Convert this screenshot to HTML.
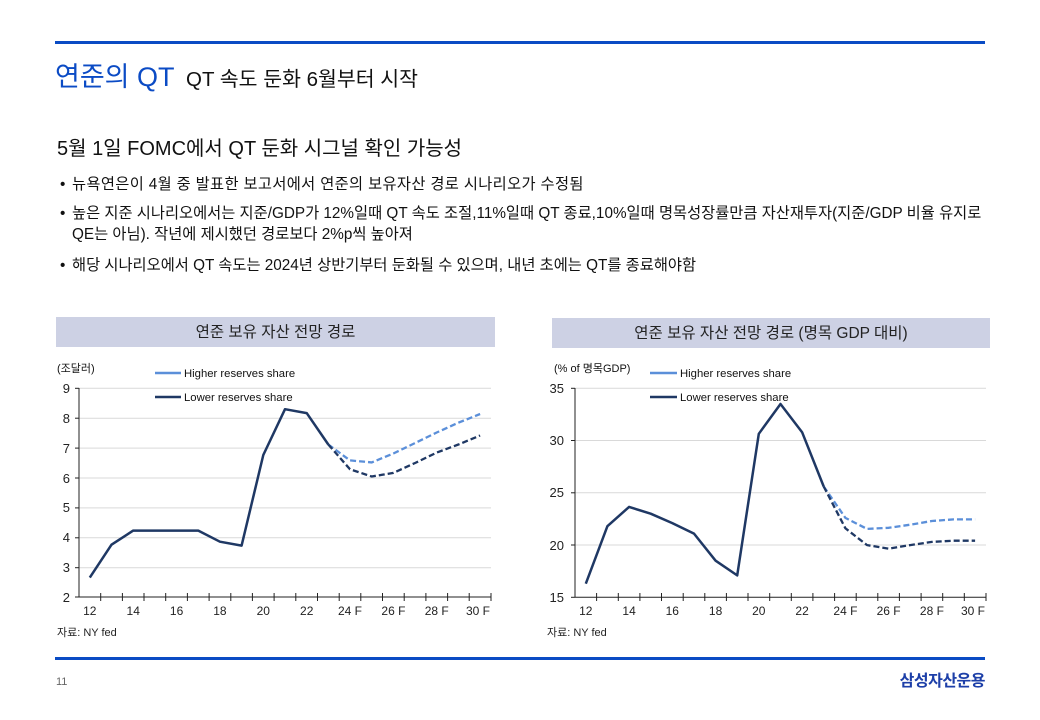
<!DOCTYPE html>
<html><head><meta charset="utf-8">
<style>
html,body{margin:0;padding:0;background:#fff;}
body{width:1040px;height:720px;overflow:hidden;}
svg{display:block;font-family:"Liberation Sans","Noto Sans CJK KR",sans-serif;}
</style></head>
<body>
<svg width="1040" height="720" viewBox="0 0 1040 720" xmlns="http://www.w3.org/2000/svg">
<rect x="0" y="0" width="1040" height="720" fill="#fff"/>
<!-- top rule -->
<rect x="55" y="41" width="930" height="3" fill="#0a4bc4"/>
<text x="55" y="86" font-size="27" fill="#0b4bc5">연준의 QT</text>
<text x="186" y="86" font-size="20.5" fill="#111">QT 속도 둔화 6월부터 시작</text>
<text x="57" y="155" font-size="20" fill="#111">5월 1일 FOMC에서 QT 둔화 시그널 확인 가능성</text>

<g font-size="15.3" fill="#111">
<text x="60" y="189">•</text>
<text x="72" y="189" letter-spacing="0.35">뉴욕연은이 4월 중 발표한 보고서에서 연준의 보유자산 경로 시나리오가 수정됨</text>
<text x="60" y="218">•</text>
<text x="72" y="218">높은 지준 시나리오에서는 지준/GDP가 12%일때 QT 속도 조절,11%일때 QT 종료,10%일때 명목성장률만큼 자산재투자(지준/GDP 비율 유지로</text>
<text x="72" y="239">QE는 아님). 작년에 제시했던 경로보다 2%p씩 높아져</text>
<text x="60" y="270">•</text>
<text x="72" y="270">해당 시나리오에서 QT 속도는 2024년 상반기부터 둔화될 수 있으며, 내년 초에는 QT를 종료해야함</text>
</g>

<!-- LEFT CHART -->
<rect x="56" y="317" width="439" height="30" fill="#cdd1e4"/>
<text x="275.5" y="337" font-size="15.5" fill="#222" text-anchor="middle">연준 보유 자산 전망 경로</text>
<text x="57" y="372" font-size="11" fill="#111">(조달러)</text>
<g stroke="#d9d9d9" stroke-width="1">
<line x1="79" y1="388.3" x2="491" y2="388.3"/>
<line x1="79" y1="418.2" x2="491" y2="418.2"/>
<line x1="79" y1="448.1" x2="491" y2="448.1"/>
<line x1="79" y1="478" x2="491" y2="478"/>
<line x1="79" y1="507.9" x2="491" y2="507.9"/>
<line x1="79" y1="537.8" x2="491" y2="537.8"/>
<line x1="79" y1="567.7" x2="491" y2="567.7"/>
</g>
<g stroke="#222" stroke-width="1">
<line x1="79" y1="388" x2="79" y2="597"/>
<line x1="79" y1="597" x2="491" y2="597"/>
<line x1="75" y1="388.3" x2="79" y2="388.3"/><line x1="75" y1="418.2" x2="79" y2="418.2"/><line x1="75" y1="448.1" x2="79" y2="448.1"/><line x1="75" y1="478" x2="79" y2="478"/><line x1="75" y1="507.9" x2="79" y2="507.9"/><line x1="75" y1="537.8" x2="79" y2="537.8"/><line x1="75" y1="567.7" x2="79" y2="567.7"/><line x1="75" y1="597" x2="79" y2="597"/>
<line x1="100.7" y1="593" x2="100.7" y2="601"/><line x1="122.4" y1="593" x2="122.4" y2="601"/><line x1="144.0" y1="593" x2="144.0" y2="601"/><line x1="165.7" y1="593" x2="165.7" y2="601"/><line x1="187.4" y1="593" x2="187.4" y2="601"/><line x1="209.1" y1="593" x2="209.1" y2="601"/><line x1="230.8" y1="593" x2="230.8" y2="601"/><line x1="252.4" y1="593" x2="252.4" y2="601"/><line x1="274.1" y1="593" x2="274.1" y2="601"/><line x1="295.8" y1="593" x2="295.8" y2="601"/><line x1="317.5" y1="593" x2="317.5" y2="601"/><line x1="339.2" y1="593" x2="339.2" y2="601"/><line x1="360.8" y1="593" x2="360.8" y2="601"/><line x1="382.5" y1="593" x2="382.5" y2="601"/><line x1="404.2" y1="593" x2="404.2" y2="601"/><line x1="425.9" y1="593" x2="425.9" y2="601"/><line x1="447.6" y1="593" x2="447.6" y2="601"/><line x1="469.2" y1="593" x2="469.2" y2="601"/><line x1="491" y1="593" x2="491" y2="601"/>
</g>
<g font-size="13" fill="#222" text-anchor="end">
<text x="70" y="393">9</text><text x="70" y="423">8</text><text x="70" y="453">7</text><text x="70" y="483">6</text><text x="70" y="512">5</text><text x="70" y="542">4</text><text x="70" y="572">3</text><text x="70" y="602">2</text>
</g>
<g font-size="12" fill="#222" text-anchor="middle">
<text x="89.8" y="615">12</text><text x="133.2" y="615">14</text><text x="176.6" y="615">16</text><text x="219.9" y="615">18</text><text x="263.3" y="615">20</text><text x="306.7" y="615">22</text><text x="350.0" y="615">24 F</text><text x="393.4" y="615">26 F</text><text x="436.7" y="615">28 F</text><text x="478" y="615">30 F</text>
</g>
<!-- legend left -->
<line x1="155" y1="373" x2="181" y2="373" stroke="#5b8fd9" stroke-width="2.5"/>
<text x="184" y="377" font-size="11.3" fill="#111">Higher reserves share</text>
<line x1="155" y1="397" x2="181" y2="397" stroke="#1f3864" stroke-width="2.5"/>
<text x="184" y="401" font-size="11.3" fill="#111">Lower reserves share</text>
<!-- series left -->
<polyline fill="none" stroke="#5b8fd9" stroke-width="2.3" stroke-dasharray="6,3" points="328.3,444.5 350.0,460.4 371.7,462.4 393.4,453.5 415.1,443.0 436.7,432.5 458.4,422.7 480.1,414.0"/>
<polyline fill="none" stroke="#1f3864" stroke-width="2.3" stroke-dasharray="6,3" points="328.3,444.5 350.0,469.3 371.7,476.5 393.4,472.9 415.1,463.0 436.7,452.6 458.4,444.5 480.1,435.5"/>
<polyline fill="none" stroke="#1f3864" stroke-width="2.5" stroke-linejoin="round" points="89.8,577.6 111.5,544.7 133.2,530.6 154.9,530.6 176.6,530.6 198.3,530.6 219.9,541.7 241.6,545.6 263.3,455.0 285.0,409.2 306.7,413.1 328.3,444.5"/>
<text x="57" y="636" font-size="11" fill="#222">자료: NY fed</text>

<!-- RIGHT CHART -->
<rect x="552" y="318" width="438" height="30" fill="#cdd1e4"/>
<text x="771" y="338" font-size="15.5" fill="#222" text-anchor="middle">연준 보유 자산 전망 경로 (명목 GDP 대비)</text>
<text x="554" y="372" font-size="11" fill="#111">(% of 명목GDP)</text>
<g stroke="#d9d9d9" stroke-width="1">
<line x1="575" y1="388.3" x2="986" y2="388.3"/>
<line x1="575" y1="440.5" x2="986" y2="440.5"/>
<line x1="575" y1="492.8" x2="986" y2="492.8"/>
<line x1="575" y1="545.0" x2="986" y2="545.0"/>
</g>
<g stroke="#222" stroke-width="1">
<line x1="575" y1="388" x2="575" y2="597.3"/>
<line x1="575" y1="597.3" x2="986" y2="597.3"/>
<line x1="571" y1="388.3" x2="575" y2="388.3"/><line x1="571" y1="440.5" x2="575" y2="440.5"/><line x1="571" y1="492.8" x2="575" y2="492.8"/><line x1="571" y1="545.0" x2="575" y2="545.0"/><line x1="571" y1="597.3" x2="575" y2="597.3"/>
<line x1="596.6" y1="593" x2="596.6" y2="601"/><line x1="618.3" y1="593" x2="618.3" y2="601"/><line x1="639.9" y1="593" x2="639.9" y2="601"/><line x1="661.5" y1="593" x2="661.5" y2="601"/><line x1="683.2" y1="593" x2="683.2" y2="601"/><line x1="704.8" y1="593" x2="704.8" y2="601"/><line x1="726.4" y1="593" x2="726.4" y2="601"/><line x1="748.0" y1="593" x2="748.0" y2="601"/><line x1="769.7" y1="593" x2="769.7" y2="601"/><line x1="791.3" y1="593" x2="791.3" y2="601"/><line x1="812.9" y1="593" x2="812.9" y2="601"/><line x1="834.6" y1="593" x2="834.6" y2="601"/><line x1="856.2" y1="593" x2="856.2" y2="601"/><line x1="877.8" y1="593" x2="877.8" y2="601"/><line x1="899.4" y1="593" x2="899.4" y2="601"/><line x1="921.1" y1="593" x2="921.1" y2="601"/><line x1="942.7" y1="593" x2="942.7" y2="601"/><line x1="964.3" y1="593" x2="964.3" y2="601"/><line x1="986" y1="593" x2="986" y2="601"/>
</g>
<g font-size="13" fill="#222" text-anchor="end">
<text x="564" y="393">35</text><text x="564" y="445">30</text><text x="564" y="497">25</text><text x="564" y="550">20</text><text x="564" y="602">15</text>
</g>
<g font-size="12" fill="#222" text-anchor="middle">
<text x="585.8" y="615">12</text><text x="629.1" y="615">14</text><text x="672.3" y="615">16</text><text x="715.6" y="615">18</text><text x="758.8" y="615">20</text><text x="802.1" y="615">22</text><text x="845.4" y="615">24 F</text><text x="888.6" y="615">26 F</text><text x="931.9" y="615">28 F</text><text x="973" y="615">30 F</text>
</g>
<line x1="650" y1="373" x2="677" y2="373" stroke="#5b8fd9" stroke-width="2.5"/>
<text x="680" y="377" font-size="11.3" fill="#111">Higher reserves share</text>
<line x1="650" y1="397" x2="677" y2="397" stroke="#1f3864" stroke-width="2.5"/>
<text x="680" y="401" font-size="11.3" fill="#111">Lower reserves share</text>
<polyline fill="none" stroke="#5b8fd9" stroke-width="2.3" stroke-dasharray="6,3" points="823.7,486.5 845.4,517.9 867.0,528.9 888.6,527.8 910.2,524.7 931.9,521.0 953.5,519.4 975.1,519.4"/>
<polyline fill="none" stroke="#1f3864" stroke-width="2.3" stroke-dasharray="6,3" points="823.7,486.5 845.4,528.3 867.0,545.1 888.6,548.7 910.2,545.1 931.9,541.9 953.5,540.7 975.1,540.7"/>
<polyline fill="none" stroke="#1f3864" stroke-width="2.5" stroke-linejoin="round" points="585.8,583.7 607.4,526.2 629.1,506.9 650.7,513.7 672.3,523.1 694.0,533.6 715.6,560.7 737.2,575.4 758.8,433.8 780.5,404.0 802.1,432.2 823.7,486.5"/>
<text x="547" y="636" font-size="11" fill="#222">자료: NY fed</text>

<!-- footer -->
<rect x="55" y="657" width="930" height="3" fill="#0a4bc4"/>
<text x="56" y="685" font-size="11" fill="#666">11</text>
<text x="985" y="686" font-size="16" font-weight="bold" fill="#1d3fa8" text-anchor="end" letter-spacing="-0.5">삼성자산운용</text>
</svg>
</body></html>
